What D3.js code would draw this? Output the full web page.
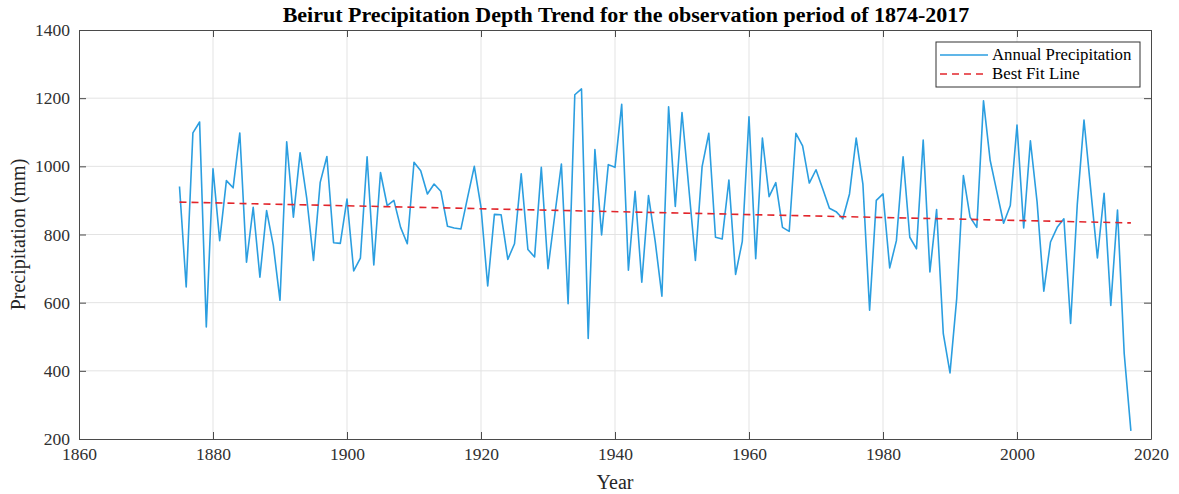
<!DOCTYPE html>
<html>
<head>
<meta charset="utf-8">
<script src="https://cdn.jsdelivr.net/npm/d3@7"></script>
<style>
  body { margin: 0; background: #fff; }
  text { font-family: "Liberation Serif", "Times New Roman", serif; }
</style>
</head>
<body>
<svg id="chart" width="1179" height="494"></svg>
<script>
// Years of the record
const years = d3.range(1875, 2018);

// Annual precipitation (mm)
const precipitation = [
    941, 646, 1098, 1130, 529, 993, 782, 958, 937, 1098,
    719, 880, 675, 870, 768, 607, 1072, 851, 1040, 905,
    724, 953, 1029, 776, 774, 904, 693, 731, 1028, 711,
    982, 885, 900, 821, 773, 1012, 987, 919, 948, 927,
    824, 819, 816, 909, 1000, 880, 649, 859, 858, 727,
    773, 978, 756, 734, 997, 700, 855, 1007, 597, 1210,
    1227, 495, 1049, 799, 1005, 997, 1182, 695, 927, 660,
    914, 780, 619, 1175, 882, 1158, 940, 724, 999, 1097,
    792, 787, 960, 683, 780, 1145, 729, 1083, 911, 952,
    821, 809, 1097, 1060, 951, 990, 934, 877, 867, 846,
    919, 1083, 948, 578, 900, 919, 702, 782, 1028, 792,
    758, 1077, 690, 873, 509, 394, 612, 973, 851, 821,
    1192, 1017, 925, 833, 885, 1121, 819, 1075, 895, 634,
    778, 821, 846, 539, 889, 1136, 933, 731, 921, 592,
    872, 451, 224
];

// Best fit line end points
const trendYears = [1875, 2017];
const trendValues = [895, 834];

const xTicks = [1860, 1880, 1900, 1920, 1940, 1960, 1980, 2000, 2020];
const yTicks = [200, 400, 600, 800, 1000, 1200, 1400];

const margin = { left: 79, right: 28, top: 30, bottom: 55 };
const width = 1179;
const height = 494;

const svg = d3.select('#chart');

const x = d3.scaleLinear()
    .domain([1860, 2020])
    .range([margin.left, width - margin.right]);

const y = d3.scaleLinear()
    .domain([200, 1400])
    .range([height - margin.bottom, margin.top]);

// Grid lines
svg.append('g')
    .selectAll('line')
    .data(xTicks.slice(1, -1))
    .join('line')
    .attr('x1', d => x(d)).attr('x2', d => x(d))
    .attr('y1', y(200)).attr('y2', y(1400))
    .attr('stroke', '#e3e3e3');

svg.append('g')
    .selectAll('line')
    .data(yTicks.slice(1, -1))
    .join('line')
    .attr('y1', d => y(d)).attr('y2', d => y(d))
    .attr('x1', x(1860)).attr('x2', x(2020))
    .attr('stroke', '#e3e3e3');

// Data line
const line = d3.line()
    .x((d, i) => x(years[i]))
    .y(d => y(d));

svg.append('path')
    .datum(precipitation)
    .attr('fill', 'none')
    .attr('stroke', '#2b9ee0')
    .attr('stroke-width', 1.6)
    .attr('stroke-linejoin', 'round')
    .attr('d', line);

// Trend line
const trendLine = d3.line()
    .x((d, i) => x(trendYears[i]))
    .y(d => y(d));

svg.append('path')
    .datum(trendValues)
    .attr('fill', 'none')
    .attr('stroke', '#e2262c')
    .attr('stroke-width', 1.6)
    .attr('stroke-dasharray', '7,5')
    .attr('d', trendLine);

// Axes (ticks point inward, mirrored on the box)
const tickColor = '#4a4a4a';
const xAxis = svg.append('g')
    .attr('transform', `translate(0,${y(200)})`)
    .call(d3.axisBottom(x).tickValues(xTicks).tickFormat(d3.format('d')).tickSizeInner(-7).tickSizeOuter(0).tickPadding(9));
const xAxisTop = svg.append('g')
    .attr('transform', `translate(0,${y(1400)})`)
    .call(d3.axisTop(x).tickValues(xTicks).tickFormat('').tickSizeInner(-7).tickSizeOuter(0));
const yAxis = svg.append('g')
    .attr('transform', `translate(${x(1860)},0)`)
    .call(d3.axisLeft(y).tickValues(yTicks).tickFormat(d3.format('d')).tickSizeInner(-7).tickSizeOuter(0).tickPadding(9));
const yAxisRight = svg.append('g')
    .attr('transform', `translate(${x(2020)},0)`)
    .call(d3.axisRight(y).tickValues(yTicks).tickFormat('').tickSizeInner(-7).tickSizeOuter(0));

[xAxis, xAxisTop, yAxis, yAxisRight].forEach(g => {
    g.select('.domain').attr('stroke', tickColor).attr('stroke-width', 1);
    g.selectAll('.tick line').attr('stroke', tickColor);
    g.selectAll('.tick text')
        .attr('fill', '#303030')
        .style('font-size', '17.5px')
        .style('font-family', '"Liberation Serif", "Times New Roman", serif');
});

// Title and axis labels
svg.append('text')
    .attr('x', (x(1860) + x(2020)) / 2 + 11)
    .attr('y', 22)
    .attr('text-anchor', 'middle')
    .attr('font-weight', 'bold')
    .attr('font-size', 22)
    .attr('fill', '#000')
    .text('Beirut Precipitation Depth Trend for the observation period of 1874-2017');

svg.append('text')
    .attr('x', (x(1860) + x(2020)) / 2)
    .attr('y', 489)
    .attr('text-anchor', 'middle')
    .attr('font-size', 20)
    .attr('fill', '#262626')
    .text('Year');

svg.append('text')
    .attr('transform', `translate(25,${(y(200) + y(1400)) / 2}) rotate(-90)`)
    .attr('text-anchor', 'middle')
    .attr('font-size', 20)
    .attr('fill', '#262626')
    .text('Precipitation (mm)');

// Legend
const legend = svg.append('g').attr('transform', 'translate(936,42)');
legend.append('rect')
    .attr('width', 204).attr('height', 45)
    .attr('fill', '#fff')
    .attr('stroke', '#333')
    .attr('stroke-width', 1);

const legendItems = [
    { label: 'Annual Precipitation', color: '#2b9ee0', dash: null },
    { label: 'Best Fit Line', color: '#e2262c', dash: '7,5' }
];

legend.selectAll('line')
    .data(legendItems)
    .join('line')
    .attr('x1', 4).attr('x2', 52)
    .attr('y1', (d, i) => 13 + i * 19).attr('y2', (d, i) => 13 + i * 19)
    .attr('stroke', d => d.color)
    .attr('stroke-width', 1.6)
    .attr('stroke-dasharray', d => d.dash);

legend.selectAll('text')
    .data(legendItems)
    .join('text')
    .attr('x', 56)
    .attr('y', (d, i) => 18 + i * 19)
    .attr('font-size', 16.8)
    .attr('fill', '#000')
    .text(d => d.label);
</script>
</body>
</html>
